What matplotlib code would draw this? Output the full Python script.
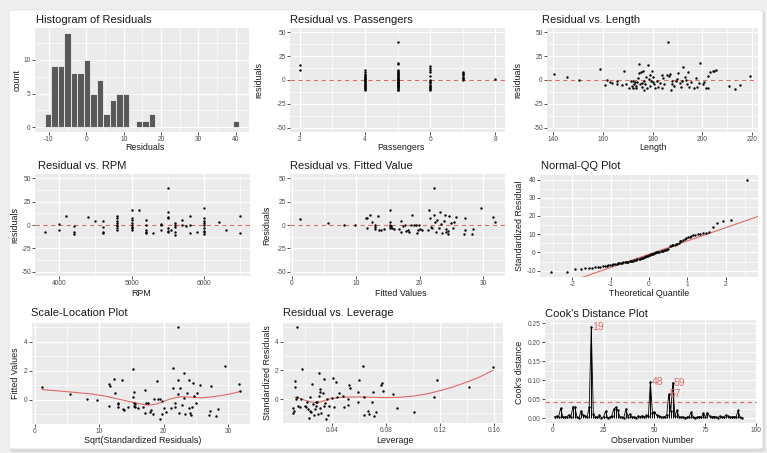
import numpy as np
import matplotlib
matplotlib.use('Agg')
import matplotlib.pyplot as plt
from matplotlib.ticker import MultipleLocator, FormatStrFormatter
from matplotlib.patches import FancyBboxPatch
from statistics import NormalDist

plt.rcParams['font.family'] = ['Liberation Sans', 'DejaVu Sans']
plt.rcParams['axes.unicode_minus'] = False

# ---------------- data ----------------
residuals = [-10.9, -10.5,
             -9.2, -9.0, -8.8, -8.6, -8.4, -8.2, -8.0, -7.8, -7.7,
             -7.5, -7.3, -7.1, -6.9, -6.7, -6.5, -6.3, -6.1, -5.95,
             -5.8, -5.7, -5.6, -5.5, -5.4, -5.3, -5.2, -5.0, -4.9, -4.8, -4.6, -4.5, -4.3, -4.2,
             -4.0, -3.8, -3.6, -3.4, -3.2, -3.0, -2.8, -2.5,
             -2.3, -2.1, -1.9, -1.7, -1.5, -1.3, -1.0, -0.8,
             -0.6, -0.4, -0.2, 0.0, 0.1, 0.3, 0.5, 0.7, 0.85, 1.0,
             1.1, 1.2, 1.4, 1.6, 1.9,
             3.4, 3.6, 3.8, 4.0, 4.2, 4.4, 4.5,
             5.2, 6.0,
             6.5, 7.0, 7.5, 7.9,
             8.2, 8.6, 9.0, 9.3, 9.6,
             9.9, 10.2, 10.5, 10.9, 11.3,
             14.2, 16.0, 17.0, 18.0, 40.0]
hist_edges = np.linspace(-11.07, 40.92, 31)

passengers = [2, 2] + [4] * 20 + [5] * 31 + [6] * 15 + [7] * 8 + [8]
passengers_resid = [16, 10,
                    11, 8, 6, 4, 3, 2, 1, 0, -1, -2, -3, -4, -5, -6, -7, -8, -9, -11, 5, -0.5,
                    40, 18, 17, 10, 9, 8, 7, 6, 5, 4, 3, 2, 1, 0, -1, -2, -3, -4, -5, -6, -7, -8, -9, -10, -11,
                    1.5, -2.5, -5.5, 0.5, -3.5, -6.5,
                    15, 13, 10, 8, 4, 0, -1, -2, -3, -5, -6, -7, -8, -9, -10,
                    8, 7, 6, 5, 3, 2, 1, 0,
                    1]

length = [140.5, 145.7, 150.5, 158.7, 160.7, 161.6, 162.7, 163.6, 165.6, 165.6, 167.7, 168.6, 169.5, 170.6,
          171.2, 171.6, 172.1, 172.3, 172.5, 172.9, 173.2, 173.5, 173.9, 174.3, 174.5, 174.5, 174.8, 175.2,
          175.6, 175.8, 176.1, 176.5, 176.5, 176.9, 177.4, 177.8, 178.1, 178.5, 178.9, 179.1, 179.5, 179.8,
          180.1, 180.4, 180.8, 181.1, 181.8, 182.4, 183.1, 183.7, 183.7, 184.4, 184.8, 185.7, 186.4, 186.6,
          187.0, 187.3, 187.7, 187.9, 188.7, 189.3, 189.7, 190.3, 191.0, 191.6, 191.9, 192.3, 193.0, 193.6,
          193.9, 194.3, 194.9, 195.6, 196.7, 197.6, 198.0, 198.9, 199.3, 200.2, 200.9, 201.5, 202.2, 202.5,
          203.2, 204.2, 204.8, 205.7, 211.0, 213.4, 215.4, 219.3]
length_resid = [6.3, 2.8, 0, 11.2, -4.9, 0, -2.4, -3.1, -0.7, -4.2, -5.6, 9.8, -3.8, -8,
                -1.4, -5.9, -0.7, -8.4, -4.2, -2.4, -8.4, -5.9, -1.7, 2.1, 16.8, 7, -4.2, 8,
                -7, -3.5, 9.8, -10.5, -0.7, -4.2, 2.8, -8.4, 16, 1, 5.6, -5.9, -0.7, 9.8,
                -2.4, 2.8, -4.2, -8.4, -1.4, -7, -3.5, 5.6, -8.4, 2.1, -4.2, 5.6, 39.5, 4.5,
                6.3, -10.5, -0.7, -4.2, -5.9, -0.7, 0.7, 7, -3.5, -7, -1.4, 14, 3.5, 0.3,
                -4.2, 8.4, -7.7, -2.4, -8.4, 2.1, -7, -3.5, 18.2, -4.2, -2.4, -8.4, -8.4, 4.2,
                8.4, 9.1, 9.8, 10.5, -6.3, -9.8, -4.9, 4.2]

rpm = [3800, 4000, 4000, 4100, 4200, 4200, 4200, 4400, 4500, 4600, 4600, 4600, 4600,
       4800, 4800, 4800, 4800, 4800, 4800, 4800, 4800,
       5000, 5000, 5000, 5000, 5000, 5000, 5000, 5000, 5100,
       5200, 5200, 5200, 5200, 5200, 5300, 5400, 5400, 5400,
       5500, 5500, 5500, 5500, 5500, 5500, 5500, 5550,
       5600, 5600, 5600, 5600, 5600, 5700, 5700, 5750, 5800, 5800, 5800, 5900,
       6000, 6000, 6000, 6000, 6000, 6000, 6000, 6000, 6000, 6200, 6300, 6500, 6500]
rpm_resid = [-7, 1, -5, 10, -1.5, -7, -10, 9, 4, 4, -2.5, -7, -9,
             10, 7, 4.5, 2, 0.5, -1.5, -3, -5,
             16, 7, 5, 2, 0, -2, -3, -5, 16,
             5, 0, -5, -7, -9, -9, 1, 0, -5,
             40, 14, 9, 8, -3, -6, -7, -5,
             2, 0, -2.5, -7, -11, 5, 0, -1, 10, 0.5, -9, -7,
             18, 8, 4.5, 2, -0.5, -3, -6, -8, -10, 3, -5, 10, -9]

fitted = [1.2, 5.6, 8.2, 9.9, 11.6, 11.7, 11.7, 12.2, 12.5, 13.0, 13.0, 13.0, 13.5, 13.6, 13.9, 14.4,
          15.3, 15.3, 15.3, 15.3, 15.3, 15.6, 15.7, 16.0, 16.8, 17.1, 17.1, 17.4, 17.7, 17.9, 18.2, 18.3,
          18.7, 18.9, 19.1, 19.4, 19.6, 19.7, 19.9, 20.1, 20.4, 21.3, 21.5, 21.6, 21.8, 22.0, 22.2, 22.3,
          22.5, 22.6, 22.8, 23.1, 23.2, 23.4, 23.5, 23.9, 24.0, 24.1, 24.2, 24.4, 24.5, 24.7, 24.9, 25.2,
          25.4, 25.7, 27.0, 27.1, 27.2, 28.3, 28.4, 29.7, 31.5, 31.8]
fitted_resid = [6, 2.6, 0, 0, 8, 7, -3.7, 11, 3.4, -0.5, -2.3, -4.8, 10, -5, -5.8, -4.8,
                16.4, 3.4, 0.5, -1.6, -3.7, -1.2, -3.7, -4.8, -4.4, -7.2, 4, -1.2, -0.5, -6.5, -5.8, -7.2,
                0.5, 10.4, 0.5, 0.5, -8.3, -5.8, -0.2, -4.8, -5.8, -5.8, 16, 7, -2.3, -3.7, 40, 10.4,
                3.4, -7.2, 5.8, -3, 14, 1.2, -8.3, 4, 10.4, -4.8, -7.2, -9.4, -6.5, 9.7, 2.3, -3,
                3.4, 8.3, -9.4, -5.8, 7.6, -9.4, -4.8, 18.2, 8.3, 3.4]

qq_intercept = -1.0
qq_slope = 7.3

sl_x = [1.16, 5.5, 8.2, 9.7, 11.5, 11.75, 11.6, 12.25, 12.45, 12.96, 12.96, 12.96, 13.6, 13.7, 13.87, 14.5,
        15.33, 15.4, 15.3, 15.4, 15.4, 15.6, 15.6, 16.0, 16.8, 17.1, 17.1, 17.3, 17.65, 17.9, 18.05, 18.3,
        18.56, 19.0, 19.06, 19.4, 19.5, 19.7, 19.8, 20.0, 20.3, 21.2, 21.5, 21.5, 21.7, 21.8, 22.2, 22.3,
        22.3, 22.4, 22.6, 22.8, 23.2, 23.2, 23.3, 23.6, 24.0, 24.0, 24.1, 24.3, 24.35, 24.5, 24.7, 25.0,
        25.2, 25.7, 27.1, 27.2, 27.4, 28.2, 28.4, 29.6, 31.7, 31.9]
sl_y = [0.86, 0.4, 0.05, 0.0, 1.1, 0.98, -0.4, 1.44, 0.5, -0.19, -0.28, -0.47, 1.4, -0.65, -0.7, -0.53,
        2.1, 0.56, 0.16, -0.19, -0.42, -0.28, -0.51, -0.58, -0.51, -0.88, 0.7, -0.23, -0.19, -0.81, -0.7, -0.98,
        0.05, 1.28, 0.05, 0.05, -1.35, -0.98, -0.05, -0.58, -0.81, -0.58, 2.2, 0.81, -0.23, -0.51, 5.0, 1.35,
        0.4, -0.88, 0.81, -0.35, 1.86, 0.12, -0.98, 0.47, 1.35, -0.58, -0.93, -1.07, -0.47, 1.16, 0.23, -0.23,
        0.47, 1.05, -1.05, -0.74, 0.98, -1.12, -0.63, 2.33, 1.12, 0.58]
sl_smooth_x = [1.2, 3.5, 6, 8.5, 11, 13, 15, 16.5, 17.7, 18.8, 19.8, 20.8, 21.8, 22.8, 23.8, 24.8,
               26, 27.5, 29, 30.5, 31.9]
sl_smooth_y = [0.70, 0.62, 0.52, 0.42, 0.25, 0.05, -0.15, -0.30, -0.36, -0.30, -0.15, 0.02, 0.15, 0.21,
               0.20, 0.15, 0.14, 0.20, 0.30, 0.42, 0.58]

lev_x = [0.0141, 0.018, 0.0124, 0.0124, 0.013, 0.011, 0.011, 0.0118, 0.0141, 0.0149, 0.016, 0.0173,
         0.0198, 0.021, 0.0217, 0.022, 0.023, 0.0234, 0.024, 0.0246, 0.0254, 0.0258, 0.0266, 0.027,
         0.0278, 0.028, 0.029, 0.0295, 0.030, 0.0302, 0.0307, 0.031, 0.0314, 0.032, 0.033, 0.0337,
         0.034, 0.035, 0.0356, 0.036, 0.037, 0.038, 0.0398, 0.0405, 0.0417, 0.043, 0.044, 0.045,
         0.048, 0.049, 0.0515, 0.052, 0.0527, 0.053, 0.059, 0.0595, 0.060, 0.063, 0.0637, 0.064,
         0.0668, 0.0673, 0.070, 0.0705, 0.0715, 0.0724, 0.076, 0.077, 0.078, 0.085, 0.088, 0.1007,
         0.116, 0.118, 0.142, 0.1595]
lev_y = [5.0, 2.1, 1.28, 0.81, 0.0, -0.65, -0.98, -0.81, 0.12, -0.47, -0.58, 0.0,
         -0.47, -0.58, -0.19, -0.7, -1.35, -0.81, 0.12, -0.93, 1.05, -0.35, -1.12, -0.7,
         -0.23, -0.47, -0.19, -1.05, 1.8, 0.23, -0.65, 0.7, 0.47, -0.98, 0.4, -0.51,
         1.4, -0.28, -1.4, 0.0, -1.12, -0.47, 0.1, 1.44, -0.58, 1.2, 0.12, 0.42,
         0.19, -0.58, 0.0, -0.4, 0.98, 0.74, 0.51, -0.23, 1.33, 2.33, -1.12, 0.12,
         -0.81, -1.05, -0.23, 0.51, -1.21, -0.93, 0.98, 1.12, 0.58, 0.35, -0.65, -0.88,
         0.16, 1.35, 0.86, 2.26]
lev_smooth_x = [0.0125, 0.016, 0.02, 0.024, 0.028, 0.032, 0.036, 0.04, 0.045, 0.05, 0.06, 0.07,
                0.08, 0.09, 0.1, 0.11, 0.12, 0.13, 0.14, 0.15, 0.1595]
lev_smooth_y = [0.12, 0.04, -0.08, -0.2, -0.25, -0.18, -0.05, 0.05, 0.1, 0.13, 0.15, 0.12,
                0.1, 0.12, 0.2, 0.35, 0.58, 0.85, 1.18, 1.55, 2.0]

cooks_d = [0.004, 0.006, 0.005, 0.027, 0.004, 0.003, 0.005, 0.009, 0.004, 0.031,
           0.029, 0.003, 0.002, 0.020, 0.009, 0.006, 0.004, 0.030, 0.241, 0.012,
           0.004, 0.003, 0.009, 0.002, 0.004, 0.019, 0.002, 0.003, 0.006, 0.024,
           0.029, 0.022, 0.004, 0.003, 0.002, 0.025, 0.005, 0.012, 0.003, 0.004,
           0.002, 0.006, 0.005, 0.007, 0.004, 0.008, 0.006, 0.096, 0.015, 0.017,
           0.009, 0.006, 0.004, 0.003, 0.005, 0.008, 0.063, 0.019, 0.094, 0.006,
           0.021, 0.005, 0.003, 0.004, 0.002, 0.003, 0.005, 0.016, 0.004, 0.002,
           0.003, 0.005, 0.003, 0.014, 0.004, 0.015, 0.006, 0.003, 0.005, 0.004,
           0.002, 0.006, 0.003, 0.004, 0.009, 0.006, 0.003, 0.004, 0.005, 0.003,
           0.021, 0.003, 0.002]
cooks_labels = [19, 48, 57, 59]
cooks_threshold = 0.043

# ---------------- figure ----------------
W, H = 767, 453
fig = plt.figure(figsize=(W / 100, H / 100), dpi=100)
fig.patch.set_facecolor('#efefef')
shadow = FancyBboxPatch((10 / W, 1 - 452 / H), 755 / W, 441 / H,
                        boxstyle='round,pad=0,rounding_size=0.006', transform=fig.transFigure,
                        facecolor='#dadada', edgecolor='none', zorder=-2)
card = FancyBboxPatch((9 / W, 1 - 449 / H), 754 / W, 439 / H,
                      boxstyle='round,pad=0,rounding_size=0.006', transform=fig.transFigure,
                      facecolor='white', edgecolor='#e2e2e2', lw=0.6, zorder=-1)
fig.patches.extend([shadow, card])

RED = '#e06a6a'
TXT = '#1a1a1a'


def make_ax(l, t, r, b, xlim, ylim, xstep, ystep):
    ax = fig.add_axes([l / W, 1 - b / H, (r - l) / W, (b - t) / H])
    ax.set_zorder(1)
    ax.set_facecolor('#ebebeb')
    for s in ax.spines.values():
        s.set_visible(False)
    ax.set_xlim(xlim)
    ax.set_ylim(ylim)
    ax.xaxis.set_major_locator(MultipleLocator(xstep))
    ax.yaxis.set_major_locator(MultipleLocator(ystep))
    ax.xaxis.set_minor_locator(MultipleLocator(xstep / 2))
    ax.yaxis.set_minor_locator(MultipleLocator(ystep / 2))
    ax.grid(which='major', color='white', lw=0.9)
    ax.grid(which='minor', color='white', lw=0.45)
    ax.set_axisbelow(True)
    ax.tick_params(which='major', length=2.0, width=0.6, color='#333333',
                   labelcolor='#4d4d4d', labelsize=4.8, pad=1.0)
    ax.tick_params(which='minor', length=0)
    return ax


def ftext(x, y, s, **kw):
    fig.text(x / W, 1 - y / H, s, color=TXT, zorder=3, **kw)


def labels(title, tx, ty, xl, xlx, xly, yl, ylx, yly):
    ftext(tx, ty, title, fontsize=8.0, ha='left', va='baseline')
    ftext(xlx, xly, xl, fontsize=6.4, ha='center', va='baseline')
    ftext(ylx, yly, yl, fontsize=6.4, ha='center', va='center', rotation=90)


def hline0(ax):
    ax.axhline(0, color=RED, lw=0.8, ls=(0, (4, 3)), zorder=2)


def dots(ax, x, y):
    ax.scatter(x, y, s=3.0, color='black', linewidths=0, zorder=3)


# Row 1 --------------------------------------------------
ax1 = make_ax(35, 28, 249, 132, (-13.7, 43.5), (-0.7, 14.7), 10, 5)
ax1.hist(residuals, bins=hist_edges, color='#595959', edgecolor='white', lw=0.5, zorder=2)
labels('Histogram of Residuals', 36, 23, 'Residuals', 145, 150, 'count', 17, 80)

ax2 = make_ax(290, 28, 505, 132, (1.7, 8.3), (-54.5, 54.5), 2, 25)
hline0(ax2)
dots(ax2, passengers, passengers_resid)
labels('Residual vs. Passengers', 290, 23, 'Passengers', 401, 150, 'residuals', 259, 80)

ax3 = make_ax(547, 28, 758, 132, (137.5, 222.5), (-54.5, 54.5), 20, 25)
hline0(ax3)
dots(ax3, length, length_resid)
labels('Residual vs. Length', 542, 23, 'Length', 653, 150, 'residuals', 518, 80)

# Row 2 --------------------------------------------------
ax4 = make_ax(35, 174, 250, 276, (3665, 6635), (-54.5, 54.5), 1000, 25)
hline0(ax4)
dots(ax4, rpm, rpm_resid)
labels('Residual vs. RPM', 38, 169, 'RPM', 141, 296, 'residuals', 15, 225)

ax5 = make_ax(290, 174, 505, 276, (-0.3, 33.4), (-54.5, 54.5), 10, 25)
hline0(ax5)
dots(ax5, fitted, fitted_resid)
labels('Residual vs. Fitted Value', 290, 169, 'Fitted Values', 401, 296, 'Residuals', 267, 225)

ax6 = make_ax(540, 175, 758, 277, (-2.84, 2.84), (-13.5, 42.5), 1, 10)
sample = np.sort(np.array(residuals))
n = len(sample)
theo = [NormalDist().inv_cdf((i + 0.5) / n) for i in range(n)]
xl = np.array(ax6.get_xlim())
ax6.plot(xl, qq_intercept + qq_slope * xl, color=RED, lw=0.8, zorder=2)
dots(ax6, theo, sample)
ax6.set_xlim(-2.84, 2.84)
labels('Normal-QQ Plot', 541, 169, 'Theoretical Quantile', 649, 296, 'Standardized Residual', 520, 226)

# Row 3 --------------------------------------------------
ax7 = make_ax(32, 323, 250, 424, (-0.4, 33.4), (-1.67, 5.3), 10, 2)
dots(ax7, sl_x, sl_y)
ax7.plot(sl_smooth_x, sl_smooth_y, color=RED, lw=0.8, zorder=2)
labels('Scale-Location Plot', 31, 316, 'Sqrt(Standardized Residuals)', 143, 443, 'Fitted Values', 16, 373)

ax8 = make_ax(283, 323, 503, 423, (0.0036, 0.1669), (-1.67, 5.3), 0.04, 2)
ax8.xaxis.set_major_formatter(FormatStrFormatter('%.2f'))
dots(ax8, lev_x, lev_y)
ax8.plot(lev_smooth_x, lev_smooth_y, color=RED, lw=0.8, zorder=2)
labels('Residual vs. Leverage', 283, 316, 'Leverage', 395, 443, 'Standardized Residuals', 267, 373)

ax9 = make_ax(545, 320, 757, 423, (-3.7, 100.3), (-0.012, 0.2585), 25, 0.05)
ax9.yaxis.set_major_formatter(FormatStrFormatter('%.2f'))
obs = np.arange(1, len(cooks_d) + 1)
ax9.axhline(cooks_threshold, color=RED, lw=0.8, ls=(0, (4, 3)), zorder=2)
ax9.vlines(obs, 0, cooks_d, color='black', lw=0.7, zorder=3)
ax9.plot(obs, cooks_d, color='black', lw=0.6, zorder=3)
ax9.scatter(obs, cooks_d, s=3.0, color='black', linewidths=0, zorder=4)
for k in cooks_labels:
    ax9.text(k + 0.5, cooks_d[k - 1], str(k), color=RED, fontsize=7.5, ha='left', va='center', zorder=5)
labels("Cook's Distance Plot", 545, 317, 'Observation Number', 652, 443, "Cook's distance", 519, 372)

fig.savefig('out.png', dpi=100, facecolor=fig.get_facecolor())
